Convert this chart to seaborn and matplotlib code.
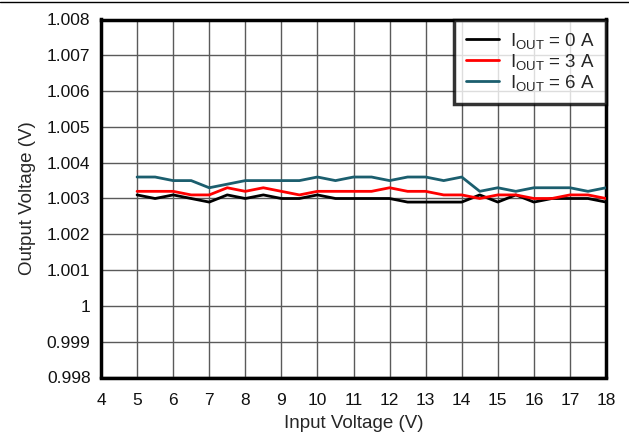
import numpy as np
import pandas as pd
import seaborn as sns
import matplotlib.pyplot as plt
from matplotlib.lines import Line2D

vin = [5, 5.5, 6, 6.5, 7, 7.5, 8, 8.5, 9, 9.5, 10, 10.5, 11, 11.5,
       12, 12.5, 13, 13.5, 14, 14.5, 15, 15.5, 16, 16.5, 17, 17.5, 18]
vout_0a = [1.0031, 1.0030, 1.0031, 1.0030, 1.0029, 1.0031, 1.0030, 1.0031, 1.0030,
           1.0030, 1.0031, 1.0030, 1.0030, 1.0030, 1.0030, 1.0029, 1.0029, 1.0029,
           1.0029, 1.0031, 1.0029, 1.0031, 1.0029, 1.0030, 1.0030, 1.0030, 1.0029]
vout_3a = [1.0032, 1.0032, 1.0032, 1.0031, 1.0031, 1.0033, 1.0032, 1.0033, 1.0032,
           1.0031, 1.0032, 1.0032, 1.0032, 1.0032, 1.0033, 1.0032, 1.0032, 1.0031,
           1.0031, 1.0030, 1.0031, 1.0031, 1.0030, 1.0030, 1.0031, 1.0031, 1.0030]
vout_6a = [1.0036, 1.0036, 1.0035, 1.0035, 1.0033, 1.0034, 1.0035, 1.0035, 1.0035,
           1.0035, 1.0036, 1.0035, 1.0036, 1.0036, 1.0035, 1.0036, 1.0036, 1.0035,
           1.0036, 1.0032, 1.0033, 1.0032, 1.0033, 1.0033, 1.0033, 1.0032, 1.0033]
labels = [r'I$_{\mathrm{OUT}}$ = 0 A', r'I$_{\mathrm{OUT}}$ = 3 A', r'I$_{\mathrm{OUT}}$ = 6 A']
colors = ['#000000', '#ff0000', '#1b5e6e']

df = pd.concat([
    pd.DataFrame({'vin': vin, 'vout': vout_0a, 'iout': labels[0]}),
    pd.DataFrame({'vin': vin, 'vout': vout_3a, 'iout': labels[1]}),
    pd.DataFrame({'vin': vin, 'vout': vout_6a, 'iout': labels[2]}),
])

sns.set_style('white')
plt.rcParams['font.family'] = ['Liberation Sans', 'DejaVu Sans']
plt.rcParams['mathtext.fontset'] = 'custom'
plt.rcParams['mathtext.rm'] = 'Liberation Sans'
plt.rcParams['mathtext.it'] = 'Liberation Sans:italic'

fig = plt.figure(figsize=(6.29, 4.37), dpi=100)
ax = fig.add_axes([101 / 629, 1 - 377.5 / 437, 505 / 629, 358 / 437])

sns.lineplot(data=df, x='vin', y='vout', hue='iout', palette=colors,
             linewidth=2.0, ax=ax, zorder=3)

ax.set_xlim(4, 18)
ax.set_ylim(0.998, 1.008)
ax.set_xticks(np.arange(4, 19, 1))
ax.set_yticks(np.arange(0.998, 1.0081, 0.001))
ax.set_yticklabels(['0.998', '0.999', '1', '1.001', '1.002', '1.003',
                    '1.004', '1.005', '1.006', '1.007', '1.008'])
ax.grid(True, color='#5a5a5a', linewidth=1.0)
ax.tick_params(length=0, labelsize=12.5, colors='#111111')
ax.tick_params(axis='x', pad=11)
ax.tick_params(axis='y', pad=7.5)
for s in ax.spines.values():
    s.set_linewidth(2.5)
    s.set_color('black')
ax.set_xlabel('Input Voltage (V)', fontsize=13.5, labelpad=5)
ax.set_ylabel('Output Voltage (V)', fontsize=13.5, labelpad=8)

leg = ax.legend(loc='upper right', fontsize=13.5, frameon=True, fancybox=False,
                borderaxespad=0, handlelength=1.8, labelspacing=0.05,
                borderpad=0.6, handletextpad=0.55)
leg.get_frame().set_edgecolor('black')
leg.get_frame().set_linewidth(2.5)
for h in leg.get_lines():
    h.set_linewidth(2.0)

fig.add_artist(Line2D([0, 1], [1 - 2 / 437, 1 - 2 / 437], color='black', linewidth=1.0))

fig.savefig('out.png', dpi=100)
